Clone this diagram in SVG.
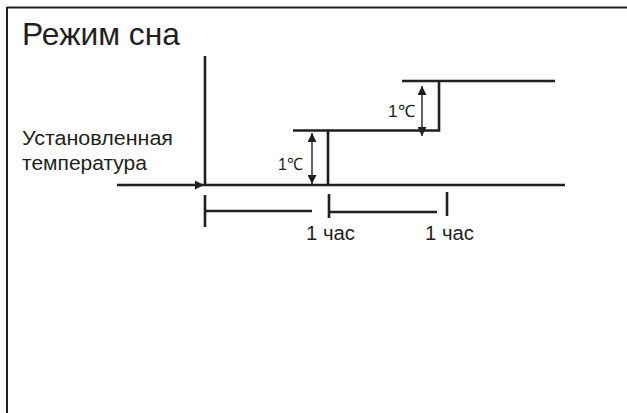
<svg xmlns="http://www.w3.org/2000/svg" width="627" height="413" viewBox="0 0 627 413">
<style>
.ln{stroke:#231f20;fill:none;stroke-width:2.6}
.thin{stroke:#231f20;fill:none;stroke-width:1.4}
.t{font-family:"Liberation Sans",Arial,sans-serif;fill:#231f20}
</style>
<defs>
<marker id="ah" viewBox="0 0 10 10" refX="10" refY="5" markerWidth="10" markerHeight="9" markerUnits="userSpaceOnUse" orient="auto-start-reverse">
<path d="M0,0 L10,5 L0,10 Z" fill="#231f20"/>
</marker>
</defs>
<rect width="627" height="413" fill="#fff"/>
<g id="frame">
<path d="M7,7.5 H627 M7,7 V413" stroke="#231f20" stroke-width="2" fill="none"/>
<text class="t" x="22" y="45" font-size="30.5" textLength="158" lengthAdjust="spacingAndGlyphs">Режим сна</text>
</g>
<g id="set-temp">
<text class="t" x="22" y="145" font-size="20.5" textLength="151" lengthAdjust="spacingAndGlyphs">Установленная</text>
<text class="t" x="22" y="170" font-size="20.5" textLength="125" lengthAdjust="spacingAndGlyphs">температура</text>
</g>
<g id="connectors">
<path class="ln" d="M205,56 V185"/>
<path class="ln" d="M117,185 H204" marker-end="url(#ah)"/>
<path class="ln" d="M204,185 H565"/>
<path class="ln" d="M293,130.5 H328 V185 M328,130.5 H439 V81 H555 M402,81 H439"/>
<path class="thin" d="M312,133 V184" marker-start="url(#ah)" marker-end="url(#ah)"/>
<path class="thin" d="M422,86 V136" marker-start="url(#ah)" marker-end="url(#ah)"/>
<path class="ln" d="M205,195 V227 M205,211 H312 M329,194 V218 M329,212 H437 M447,192 V216"/>
</g>
<g id="labels">
<text class="t" x="278" y="170" font-size="17" textLength="25" lengthAdjust="spacingAndGlyphs">1℃</text>
<text class="t" x="388" y="117" font-size="17" textLength="27" lengthAdjust="spacingAndGlyphs">1℃</text>
<text class="t" x="306" y="240" font-size="19.5" textLength="49" lengthAdjust="spacingAndGlyphs">1 час</text>
<text class="t" x="425" y="240" font-size="19.5" textLength="49" lengthAdjust="spacingAndGlyphs">1 час</text>
</g>
</svg>
